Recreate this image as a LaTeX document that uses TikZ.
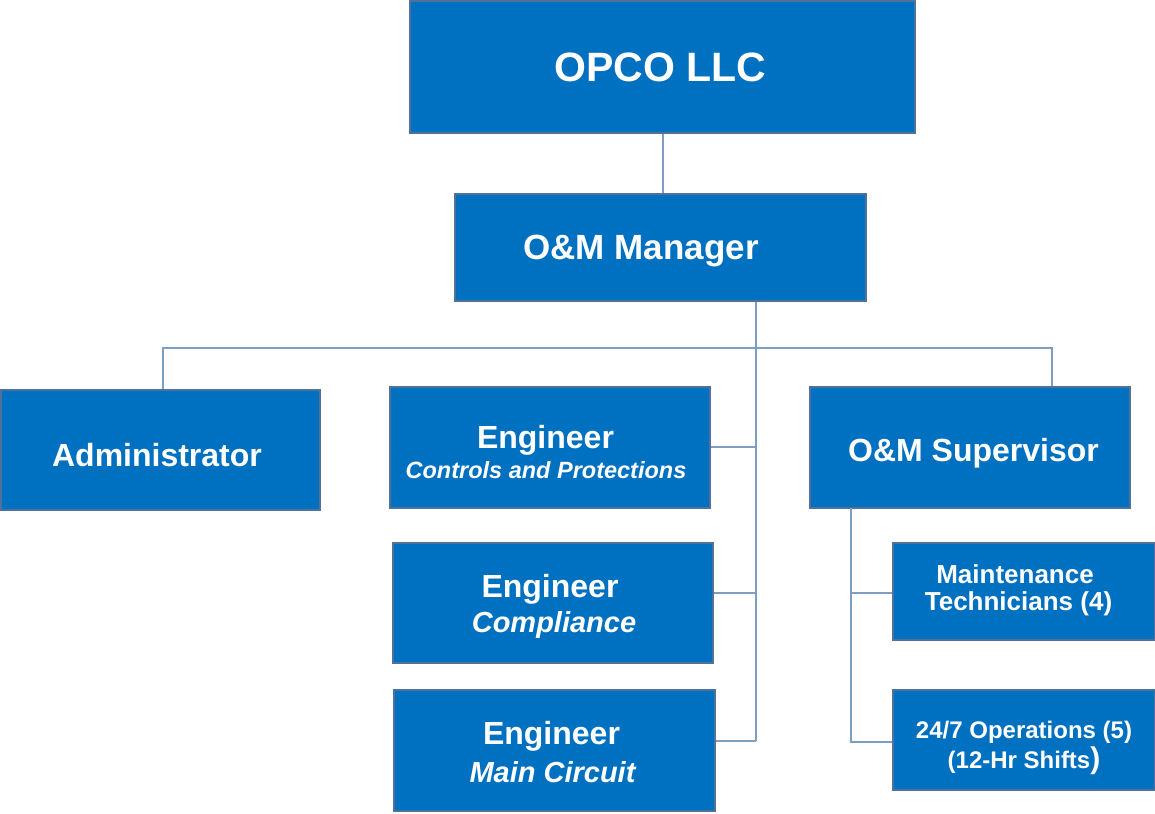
\documentclass[tikz,border=0pt]{standalone}
\usepackage{fontspec}
\setmainfont{Liberation Sans}
\definecolor{boxfill}{HTML}{0070C0}
\definecolor{boxline}{HTML}{50719A}
\definecolor{wire}{HTML}{7E9DC3}
\newcommand{\fsz}[1]{\fontsize{#1}{#1}\selectfont}
\begin{document}
\begin{tikzpicture}[x=1pt,y=-1pt,
  box/.style={draw=boxline, line width=2pt, fill=boxfill, inner sep=0pt},
  lbl/.style={text=white, font=\bfseries, anchor=base, inner sep=0pt},
  sub/.style={lbl, font=\bfseries\itshape},
  wire/.style={draw=wire, line width=2pt}]
\useasboundingbox (0,0) rectangle (1155,813);

% boxes
\node[box, minimum width=505, minimum height=132] (opco) at (662.5,67) {};
\node[box, minimum width=411, minimum height=107] (mgr)  at (660.5,247.5) {};
\node[box, minimum width=319, minimum height=120] (adm)  at (160.5,450) {};
\node[box, minimum width=320, minimum height=121] (eng1) at (550,447.5) {};
\node[box, minimum width=320, minimum height=120] (eng2) at (553,603) {};
\node[box, minimum width=321, minimum height=121] (eng3) at (554.5,750.5) {};
\node[box, minimum width=320, minimum height=121] (sup)  at (970,447.5) {};
\node[box, minimum width=262, minimum height=97]  (mt)   at (1024,591.5) {};
\node[box, minimum width=262, minimum height=100] (ops)  at (1024,740) {};

% box titles, placed on their baselines
\node[lbl] (opcoT) at (660.5,82)  {\fsz{41}OPCO LLC};
\node[lbl] (mgrT)  at (641,259)   {\fsz{35}O\&M Manager};
\node[lbl] (admT)  at (157,466)   {\fsz{32}Administrator};
\node[lbl] (supT)  at (973.5,461) {\fsz{32}O\&M Supervisor};

\node[lbl] (eng1T) at (545.5,448) {\fsz{32}Engineer};
\node[sub] (eng1S) at (546,478)   {\fsz{23.5}Controls and Protections};
\node[lbl] (eng2T) at (550,597)   {\fsz{32}Engineer};
\node[sub] (eng2S) at (554,632)   {\fsz{29}Compliance};
\node[lbl] (eng3T) at (551.5,744) {\fsz{32}Engineer};
\node[sub] (eng3S) at (552.5,782) {\fsz{29}Main Circuit};

\node[lbl] (mtT)   at (1015,583)   {\fsz{26}Maintenance};
\node[lbl] (mtS)   at (1018.5,610) {\fsz{26}Technicians (4)};
\node[lbl] (opsT)  at (1024,738)   {\fsz{24}24/7 Operations (5)};
\node[lbl] (opsS)  at (1024,768)   {\fsz{24}(12-Hr Shifts{\fsz{30})}};

% junction points of the connectors
\coordinate (spine) at (756,348);
\coordinate (spineEnd) at (756,741);
\coordinate (supDrop) at (851,508);

% connectors
\draw[wire] (opco.south -| 663,0) -- (mgr.north -| 663,0);
\draw[wire] (mgr.south -| spine) -- (spineEnd);
\draw[wire] (adm.north -| 163,0) -- (163,348) -- (1052,348) -- (sup.north -| 1052,0);
\draw[wire] (eng1.east |- 0,447) -- (756,447);
\draw[wire] (eng2.east |- 0,593) -- (756,593);
\draw[wire] (eng3.east |- 0,741) -- (spineEnd);
\draw[wire] (supDrop) -- (851,742) -- (ops.west |- 0,742);
\draw[wire] (851,593) -- (mt.west |- 0,593);
\end{tikzpicture}
\end{document}
